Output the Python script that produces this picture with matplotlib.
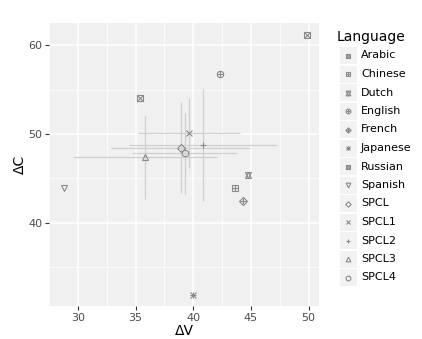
import matplotlib
matplotlib.use("Agg")
import matplotlib.pyplot as plt
from matplotlib.patches import Rectangle

# data
languages = ["Arabic", "Chinese", "Dutch", "English", "French", "Japanese",
             "Russian", "Spanish", "SPCL", "SPCL1", "SPCL2", "SPCL3", "SPCL4"]
dv = [49.9, 43.6, 44.75, 42.35, 44.35, 40.0, 35.4, 28.8, 38.9, 39.6, 40.85, 35.8, 39.25]
dc = [61.1, 43.9, 45.35, 56.8, 42.45, 31.8, 54.1, 43.85, 48.45, 50.1, 48.75, 47.4, 47.8]

# ranges for the SPCL variants only
err_langs = ["SPCL", "SPCL1", "SPCL2", "SPCL3", "SPCL4"]
dv_lo = [32.9, 35.2, 34.45, 29.55, 34.7]
dv_hi = [44.9, 44.05, 47.25, 42.05, 43.8]
dc_lo = [43.3, 46.1, 42.4, 42.7, 43.2]
dc_hi = [53.6, 54.0, 55.1, 52.0, 52.4]

# composite marker shapes (ggplot-style)
shapes = {
    "Arabic": ["s", "x"], "Chinese": ["s", "+"], "Dutch": ["^", "v"],
    "English": ["o", "+"], "French": ["D", "+"], "Japanese": ["+", "x"],
    "Russian": ["s", "x"], "Spanish": ["v"], "SPCL": ["D"], "SPCL1": ["x"],
    "SPCL2": ["+"], "SPCL3": ["^"], "SPCL4": ["o"],
}

pt_col = "#8a8a8a"
err_col = "#cfcfcf"
W, H = 422, 339

fig = plt.figure(figsize=(W / 100, H / 100), dpi=100)
ax = fig.add_axes([49 / W, 1 - 306 / H, (319 - 49) / W, (306 - 23) / H])
ax.set_facecolor("#f0f0f0")


def draw_marker(a, x, y, comps, size, zorder=3):
    for m in comps:
        s = size
        if m == "D":
            s = size * 0.8
        if m in ("+", "x"):
            s = size * (0.9 if len(comps) > 1 else 1.0)
        a.plot([x], [y], marker=m, markersize=s, markerfacecolor="none",
               markeredgecolor=pt_col, markeredgewidth=0.8, linestyle="none",
               zorder=zorder)


# ranges
for lang, xl, xh, yl, yh in zip(err_langs, dv_lo, dv_hi, dc_lo, dc_hi):
    i = languages.index(lang)
    ax.hlines(dc[i], xl, xh, color=err_col, linewidth=0.9, zorder=2)
    ax.vlines(dv[i], yl, yh, color=err_col, linewidth=0.9, zorder=2)

for lang, x, y in zip(languages, dv, dc):
    draw_marker(ax, x, y, shapes[lang], 4.6)

ax.set_xlim(27.7, 50.9)
ax.set_ylim(30.6, 62.5)
ax.set_xticks([30, 35, 40, 45, 50])
ax.set_yticks([40, 50, 60])
ax.set_xticks([27.5, 32.5, 37.5, 42.5, 47.5], minor=True)
ax.set_yticks([35, 45, 55], minor=True)
ax.grid(True, which="major", color="white", linewidth=1.1, zorder=0)
ax.grid(True, which="minor", color="white", linewidth=0.5, zorder=0)
ax.set_axisbelow(True)
for sp in ax.spines.values():
    sp.set_visible(False)
ax.tick_params(which="major", length=2.7, width=0.8, color="#333333",
               labelcolor="#4d4d4d", labelsize=8, pad=2)
ax.tick_params(which="minor", length=0)
ax.set_xlabel("ΔV", fontsize=10, labelpad=1)
ax.set_ylabel("ΔC", fontsize=10, labelpad=1)

# legend drawn in pixel coordinates
lax = fig.add_axes([0, 0, 1, 1], facecolor="none")
lax.set_xlim(0, W)
lax.set_ylim(H, 0)
lax.axis("off")
lax.text(337, 37, "Language", fontsize=10, va="center", ha="left")
y0, step = 55.5, 18.5
for k, lang in enumerate(languages):
    yy = y0 + k * step
    lax.add_patch(Rectangle((339.5, yy - 8.5), 17, 17, facecolor="#f2f2f2",
                            edgecolor="none"))
    draw_marker(lax, 348, yy, shapes[lang], 3.4)
    lax.text(361, yy, lang, fontsize=8, va="center", ha="left")

fig.savefig("out.png", dpi=100)
